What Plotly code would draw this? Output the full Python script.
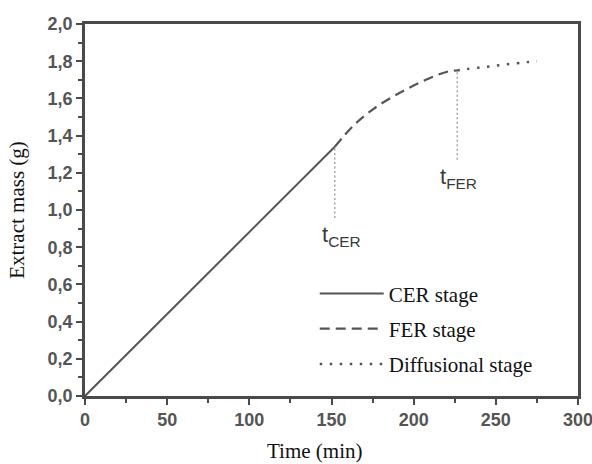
import plotly.graph_objects as go

# ---- data ----
cer_time = [0, 152]
cer_mass = [0.0, 1.34]

fer_time = [152, 163, 175, 187.5, 198, 210, 221, 226.5]
fer_mass = [1.34, 1.45, 1.54, 1.61, 1.66, 1.71, 1.745, 1.75]

dif_time = [226.5, 232.5, 244.7, 256.8, 269, 275]
dif_mass = [1.75, 1.758, 1.770, 1.783, 1.795, 1.80]

t_cer = 152
t_cer_guide = [0.957, 1.34]
t_fer = 226.5
t_fer_guide = [1.27, 1.75]

x_ticks = [0, 50, 100, 150, 200, 250, 300]
y_ticks = [0.0, 0.2, 0.4, 0.6, 0.8, 1.0, 1.2, 1.4, 1.6, 1.8, 2.0]

line_col = "#555555"
axis_col = "#4a4a4a"

fig = go.Figure()
fig.add_trace(go.Scatter(x=cer_time, y=cer_mass, mode="lines", name="CER stage",
                         legendgroup="a",
                         line=dict(color=line_col, width=2)))
fig.add_trace(go.Scatter(x=fer_time, y=fer_mass, mode="lines", name="FER stage",
                         legendgroup="b", line_shape="spline",
                         line=dict(color=line_col, width=2.2, dash="10px,6px")))
fig.add_trace(go.Scatter(x=dif_time, y=dif_mass, mode="lines", name="Diffusional stage",
                         legendgroup="c", line_shape="spline",
                         line=dict(color=line_col, width=2.5, dash="2.5px,7.5px")))
fig.add_trace(go.Scatter(x=[t_cer, t_cer], y=t_cer_guide, mode="lines", showlegend=False,
                         line=dict(color="#9a9a9a", width=1.3, dash="2px,2.5px")))
fig.add_trace(go.Scatter(x=[t_fer, t_fer], y=t_fer_guide, mode="lines", showlegend=False,
                         line=dict(color="#9a9a9a", width=1.3, dash="2px,2.5px")))

lab_font = dict(family="Liberation Sans, Arial, sans-serif", size=22, color="#3a3a3a")
fig.add_annotation(x=156, y=0.86, text="t<sub>CER</sub>", showarrow=False, font=lab_font)
fig.add_annotation(x=227.5, y=1.17, text="t<sub>FER</sub>", showarrow=False, font=lab_font)

tick_font = dict(family="Liberation Sans, Arial, sans-serif", size=18, color="#555555",
                 weight="bold")
serif = dict(family="Liberation Serif, Times New Roman, serif", size=21, color="#111111")

fig.update_xaxes(range=[0, 300], tickvals=x_ticks, ticks="outside", ticklen=6, tickwidth=2,
                 tickcolor=axis_col, showline=True, linecolor=axis_col, linewidth=2.5,
                 mirror=True, showgrid=False, zeroline=False, tickfont=tick_font,
                 automargin=False, ticklabeloverflow="allow",
                 minor=dict(dtick=25, ticks="outside", ticklen=4, tickwidth=2, tickcolor=axis_col))
fig.update_yaxes(range=[0, 2.0], tickvals=y_ticks, tickformat=".1f", ticks="outside", ticklen=6,
                 tickwidth=2, tickcolor=axis_col, showline=True, linecolor=axis_col, linewidth=2.5,
                 mirror=True, showgrid=False, zeroline=False, tickfont=tick_font,
                 automargin=False, ticklabeloverflow="allow",
                 minor=dict(dtick=0.1, ticks="outside", ticklen=4, tickwidth=2, tickcolor=axis_col),
                 title=dict(text="Extract mass (g)", font=serif, standoff=18))

fig.add_annotation(text="Time (min)", xref="paper", yref="paper", x=0.4665, y=-0.147,
                   xanchor="center", yanchor="middle", showarrow=False, font=serif)

fig.update_layout(
    width=592, height=464,
    margin=dict(l=85, r=14, t=24, b=68),
    paper_bgcolor="white", plot_bgcolor="white",
    separators=",.",
    showlegend=True,
    legend=dict(x=0.466, y=0.33, xanchor="left", yanchor="top", bgcolor="rgba(0,0,0,0)",
                font=serif, itemwidth=64, tracegroupgap=5),
)

fig.write_html("out.html")
